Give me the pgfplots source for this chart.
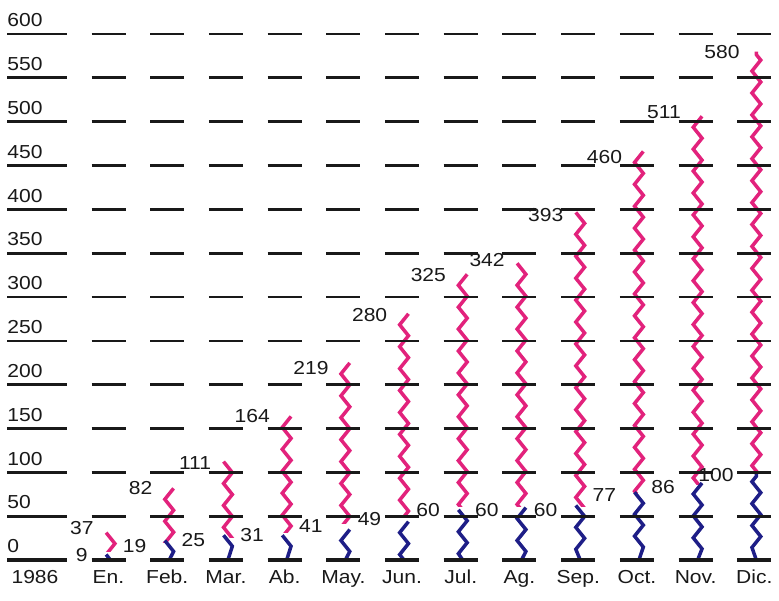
\documentclass[border=0pt]{standalone}
\usepackage{fontspec}
\setmainfont{Liberation Sans}[FakeStretch=1.12]
\usepackage{pgfplots}
\usepackage{pgfplotstable}
\pgfplotsset{compat=1.18}
\usetikzlibrary{decorations.pathmorphing}
\definecolor{mag}{RGB}{226,34,124}
\definecolor{navy}{RGB}{30,30,135}
\definecolor{ink}{RGB}{25,25,25}

\pgfplotstableread{
x total blue
1 37 9
2 82 19
3 111 25
4 164 31
5 219 41
6 280 49
7 325 60
8 342 60
9 393 60
10 460 77
11 511 86
12 580 100
}\data

\begin{document}
\begin{tikzpicture}
\useasboundingbox[fill=white] (0,0) rectangle (389.5pt,300pt);
\begin{axis}[
  at={(0,0)}, anchor=south west,
  scale only axis, width=389.5pt, height=300pt,
  xmin=-0.848, xmax=12.42,
  ymin=-45.6, ymax=638.8,
  /pgf/number format/assume math mode=true,
  axis line style={draw=none},
  major tick length=0pt,
  axis on top,
  ytick={0,50,...,600},
  ymajorgrids,
  grid style={ink, line width=1.35pt,
    dash pattern=on 0pt off 3.5pt on 29.9pt off 12.35pt
      on 17pt off 12.35pt on 17pt off 12.35pt on 17pt off 12.35pt
      on 17pt off 12.35pt on 17pt off 12.35pt on 17pt off 12.35pt
      on 17pt off 12.35pt on 17pt off 12.35pt on 17pt off 12.35pt
      on 17pt off 12.35pt on 17pt off 12.35pt on 17pt off 12.35pt},
  extra y ticks={0},
  extra y tick labels={},
  extra y tick style={grid style={line width=2.4pt}},
  xtick={-0.252,1,2,3,4,5,6,7,8,9,10,11,12},
  xticklabels={1986,En.,Feb.,Mar.,Ab.,May.,Jun.,Jul.,Ag.,Sep.,Oct.,Nov.,Dic.},
  ticklabel style={font=\fontsize{9.4}{11}\selectfont, text=ink},
  yticklabel style={anchor=south west, xshift=0.2pt, yshift=0pt},
  xticklabel style={anchor=base, yshift=8.5pt},
  nodes near coords style={font=\fontsize{9.4}{11}\selectfont, text=ink},
]
% magenta: running total (drawn from 0)
\addplot[ycomb, mag, line width=1.75pt, xshift=1pt,
  decorate, decoration={zigzag, segment length=10.96pt, amplitude=2.2pt}]
  table[x=x, y=total] {\data};
% white underlay so the blue part is clean
\addplot[ycomb, white, line width=7.5pt, xshift=1pt]
  table[x=x, y=blue] {\data};
% blue part
\addplot[ycomb, navy, line width=1.75pt, xshift=1pt,
  decorate, decoration={zigzag, segment length=10.96pt, amplitude=2.2pt}]
  table[x=x, y=blue] {\data};
% value labels
\addplot[draw=none, nodes near coords,
  every node near coord/.append style={anchor=east, xshift=-3.9pt, yshift=0pt}]
  table[x=x, y=total] {\data};
\addplot[draw=none, nodes near coords,
  every node near coord/.append style={anchor=east, xshift=-6.9pt, yshift=-1.2pt}]
  table[x=x, y=blue] {\data};
\end{axis}
\end{tikzpicture}
\end{document}
